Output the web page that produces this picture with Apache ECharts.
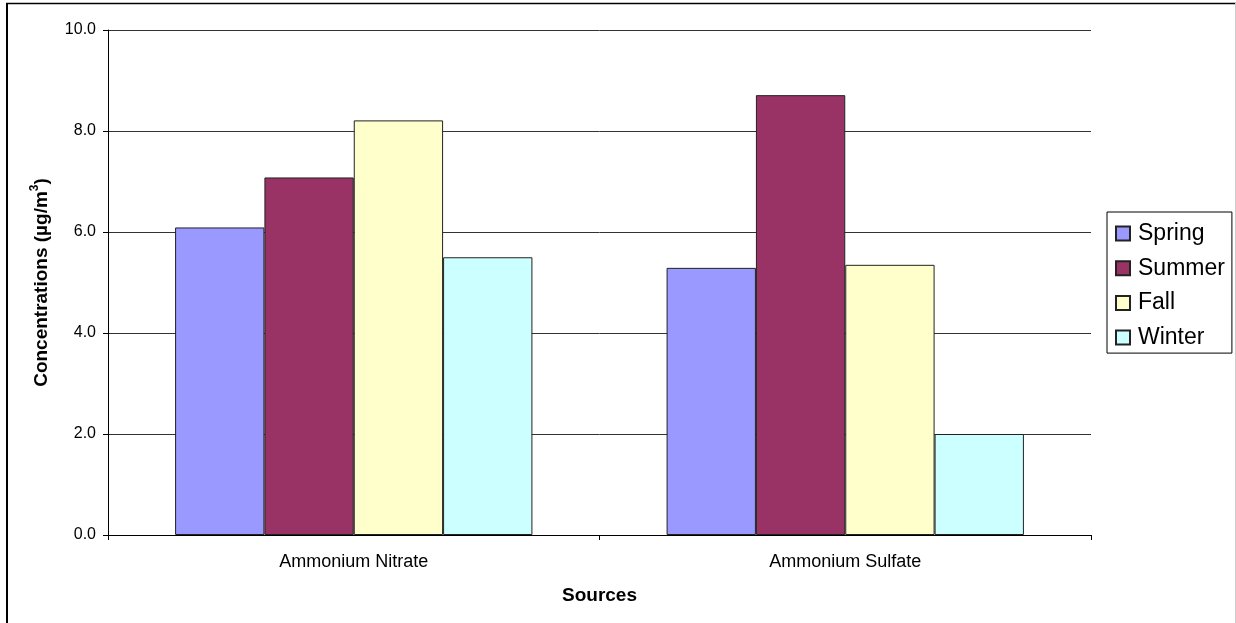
<!DOCTYPE html>
<html>
<head>
<meta charset="utf-8">
<script src="https://cdn.jsdelivr.net/npm/echarts@6/dist/echarts.min.js"></script>
<style>
html,body{margin:0;padding:0;background:#fff;}
#chart{width:1236px;height:623px;}
</style>
</head>
<body>
<div id="chart"></div>
<script>
const categories = ['Ammonium Nitrate', 'Ammonium Sulfate'];
const seriesNames = ['Spring', 'Summer', 'Fall', 'Winter'];
const springValues = [6.09, 5.29];
const summerValues = [7.08, 8.71];
const fallValues = [8.21, 5.35];
const winterValues = [5.50, 2.00];
const seriesColors = ['#9999FF', '#993366', '#FFFFCC', '#CCFFFF'];
const yTicks = { min: 0, max: 10, interval: 2 };

const allValues = [springValues, summerValues, fallValues, winterValues];
const FONT = '"Liberation Sans", Arial, sans-serif';

const chart = echarts.init(document.getElementById('chart'), null, { renderer: 'canvas' });
chart.setOption({
  backgroundColor: '#fff',
  animation: false,
  textStyle: { fontFamily: FONT },
  graphic: [
    { type: 'line', shape: { x1: 7, y1: 3, x2: 7, y2: 623 }, style: { stroke: '#000', lineWidth: 2 }, z: 100 },
    { type: 'line', shape: { x1: 6, y1: 3.5, x2: 1236, y2: 3.5 }, style: { stroke: '#000', lineWidth: 1.5 }, z: 100 },
    { type: 'line', shape: { x1: 1235.5, y1: 3, x2: 1235.5, y2: 623 }, style: { stroke: '#ccc', lineWidth: 1 }, z: 100 }
  ],
  grid: { left: 108, top: 30, width: 983, height: 505, containLabel: false },
  legend: {
    orient: 'vertical',
    left: 1107,
    top: 212,
    padding: [10, 7, 4, 8],
    itemWidth: 14,
    itemHeight: 14,
    itemGap: 11.7,
    icon: 'rect',
    borderColor: '#000',
    borderWidth: 1,
    textStyle: { fontSize: 23, lineHeight: 22, color: '#000', fontFamily: FONT, padding: [0, 0, 0, 3] },
    data: seriesNames
  },
  xAxis: {
    type: 'category',
    data: categories,
    name: 'Sources',
    nameLocation: 'middle',
    nameGap: 51,
    nameTextStyle: { fontSize: 19, fontWeight: 'bold', color: '#000', fontFamily: FONT },
    axisLine: { lineStyle: { color: '#000', width: 1 } },
    axisTick: { show: true, length: 5, lineStyle: { color: '#000' } },
    axisLabel: { fontSize: 18, color: '#000', margin: 18, fontFamily: FONT }
  },
  yAxis: {
    type: 'value',
    min: yTicks.min,
    max: yTicks.max,
    interval: yTicks.interval,
    name: '{a|Concentrations (µg/m}{b|3}{a|)}',
    nameLocation: 'middle',
    nameGap: 57,
    nameTextStyle: {
      rich: {
        a: { fontSize: 19, fontWeight: 'bold', color: '#000', fontFamily: FONT, lineHeight: 22, verticalAlign: 'bottom' },
        b: { fontSize: 12, fontWeight: 'bold', color: '#000', fontFamily: FONT, lineHeight: 22, verticalAlign: 'top', padding: [0, 0, 8, 0] }
      }
    },
    axisLine: { show: true, lineStyle: { color: '#000', width: 1 } },
    axisTick: { show: true, length: 5, lineStyle: { color: '#000' } },
    axisLabel: {
      fontSize: 16, color: '#000', margin: 12, fontFamily: FONT,
      formatter: v => v.toFixed(1)
    },
    splitLine: { show: true, lineStyle: { color: '#333', width: 1 } }
  },
  series: seriesNames.map((name, i) => ({
    name: name,
    type: 'bar',
    data: allValues[i],
    barGap: '0%',
    barCategoryGap: '27.3%',
    itemStyle: { color: seriesColors[i], borderColor: '#222', borderWidth: 1 }
  }))
});
</script>
</body>
</html>
